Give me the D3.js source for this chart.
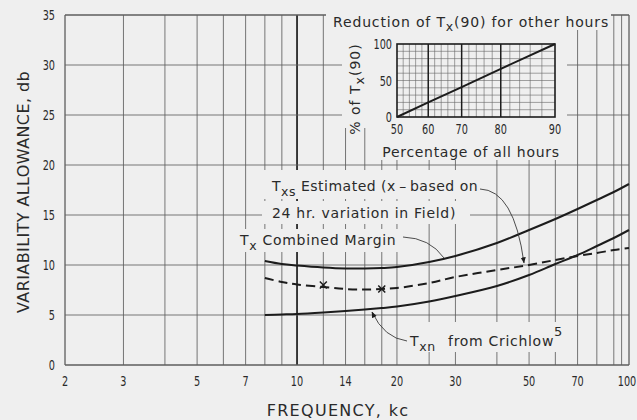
<!DOCTYPE html>
<html>
<head>
<meta charset="utf-8">
<script src="https://cdn.jsdelivr.net/npm/d3@7"></script>
<style>
  html, body { margin: 0; padding: 0; background: #efefef; }
  svg { display: block; }
  .lbl { font-family: "DejaVu Sans", "Noto Sans", sans-serif; fill: #2a2a2a; letter-spacing: 0.7px; }
  .num { font-family: "DejaVu Sans", "Noto Sans", sans-serif; fill: #2a2a2a; }
</style>
</head>
<body>
<svg id="chart" width="637" height="420"></svg>
<script>
// Variability allowance (db) against frequency (kc)
const freqKc         = [8, 9, 10, 12, 14, 16, 18, 20, 25, 30, 40, 50, 60, 70, 80, 90, 100];
const combinedMargin = [10.4, 10.1, 9.95, 9.75, 9.65, 9.65, 9.7, 9.8, 10.3, 10.9, 12.2, 13.5, 14.6, 15.6, 16.5, 17.3, 18.1];
const estimatedTxs   = [8.7, 8.3, 8.05, 7.8, 7.6, 7.55, 7.6, 7.7, 8.2, 8.8, 9.5, 10.0, 10.5, 10.9, 11.2, 11.5, 11.7];
const crichlowTxn    = [5.0, 5.05, 5.1, 5.25, 5.4, 5.55, 5.7, 5.85, 6.35, 6.9, 7.9, 9.0, 10.1, 11.0, 11.9, 12.7, 13.5];
// field measurements marked with x
const fieldKc = [12, 18];
const fieldDb = [8.0, 7.6];

const xTickLabels = [2, 3, 5, 7, 10, 14, 20, 30, 50, 70, 100];
const xGridKc     = [2, 3, 4, 5, 6, 7, 8, 9, 10, 12, 14, 16, 18, 20, 25, 30, 40, 50, 60, 70, 80, 90, 95, 100];
const yTicks      = [0, 5, 10, 15, 20, 25, 30, 35];

// Inset: reduction of Tx(90) for other hours
const insetHours  = [50, 60, 70, 80, 90];
const insetPct    = [0, 20, 41, 66, 100];
const insetXTicks = [50, 60, 70, 80, 90];
const insetXFine  = [52, 54, 56, 58, 62, 64, 66, 68, 72, 74, 76, 78, 82, 84, 86, 88];
const insetYTicks = [0, 50, 100];
const insetYFine  = [10, 20, 30, 40, 50, 60, 70, 80, 90];

const svg = d3.select("#chart");
const BG = "#efefef", INK = "#1c1c1c", GRID = "#5e5e5e";

const x = d3.scaleLog().domain([2, 100]).range([65, 629]);
const y = d3.scaleLinear().domain([0, 35]).range([365, 15]);

// narrow lettering for the scale numbers
function numText(g, data, px, py, anchor) {
  return g.selectAll(null).data(data).join("text")
    .attr("class", "num").attr("font-size", 13.5)
    .attr("text-anchor", anchor)
    .attr("transform", d => `translate(${px(d)},${py(d)}) scale(0.72,1)`)
    .text(d => d);
}

// ---- main grid ----
const grid = svg.append("g");
grid.selectAll("line.v").data(xGridKc).join("line")
  .attr("x1", d => x(d)).attr("x2", d => x(d))
  .attr("y1", y(35)).attr("y2", y(0))
  .attr("stroke", d => (d === 10 ? INK : GRID))
  .attr("stroke-width", d => (d === 10 ? 1.7 : (d === 2 || d === 100 ? 1.3 : 0.85)));
grid.selectAll("line.h").data(yTicks).join("line")
  .attr("x1", x(2)).attr("x2", x(100))
  .attr("y1", d => y(d)).attr("y2", d => y(d))
  .attr("stroke", GRID)
  .attr("stroke-width", d => (d === 0 || d === 35 ? 1.3 : 0.85));

// paper cleared under the lettering blocks
const blanks = [
  [326, 7, 611, 30],    // inset title
  [342, 30, 372, 128],  // inset axis title
  [372, 30, 567, 160],  // inset plot
  [262, 170, 480, 199], // Txs Estimated
  [262, 201, 470, 224], // 24 hr. variation
  [236, 229, 401, 252], // Tx Combined Margin
  [404, 322, 574, 352]  // Txn from Crichlow
];
svg.append("g").selectAll("rect").data(blanks).join("rect")
  .attr("x", d => d[0]).attr("y", d => d[1])
  .attr("width", d => d[2] - d[0]).attr("height", d => d[3] - d[1])
  .attr("fill", BG);

// ---- axis labels ----
numText(svg.append("g"), yTicks, () => 55, d => y(d) + 5, "end");
numText(svg.append("g"), xTickLabels, d => Math.min(x(d), 627), () => 386, "middle");

svg.append("text").attr("class", "lbl").attr("font-size", 16).style("letter-spacing", "0.4px")
  .attr("transform", "translate(29,192) rotate(-90)")
  .attr("text-anchor", "middle").text("VARIABILITY ALLOWANCE, db");
svg.append("text").attr("class", "lbl").attr("font-size", 16).style("letter-spacing", "1.3px")
  .attr("x", 338).attr("y", 416).attr("text-anchor", "middle")
  .text("FREQUENCY, kc");

// ---- curves ----
const line = d3.line().x(d => x(d[0])).y(d => y(d[1])).curve(d3.curveCatmullRom);
const curves = [
  { vals: combinedMargin, dash: null },
  { vals: estimatedTxs, dash: "9,5" },
  { vals: crichlowTxn, dash: null }
];
svg.append("g").selectAll("path").data(curves).join("path")
  .attr("d", c => line(freqKc.map((f, i) => [f, c.vals[i]])))
  .attr("fill", "none").attr("stroke", INK).attr("stroke-width", 2)
  .attr("stroke-dasharray", c => c.dash);

// field points
const xm = svg.append("g");
fieldKc.forEach((f, i) => {
  const cx = x(f), cy = y(fieldDb[i]), r = 3.5;
  xm.append("path")
    .attr("d", `M${cx - r},${cy - r}L${cx + r},${cy + r}M${cx - r},${cy + r}L${cx + r},${cy - r}`)
    .attr("stroke", INK).attr("stroke-width", 1.5);
});

// ---- lettering ----
function labelTx(g, px, py, sub, rest, size) {
  const t = g.append("text").attr("class", "lbl").attr("font-size", size)
    .attr("x", px).attr("y", py);
  t.append("tspan").text("T");
  t.append("tspan").attr("dy", 5).attr("font-size", size - 1.5).text(sub);
  t.append("tspan").attr("dy", -5).text(rest);
  return t;
}
const lab = svg.append("g");
labelTx(lab, 272, 191, "xs", " Estimated (x\u2009\u2013\u2009based on", 14).style("letter-spacing", "0.5px");
lab.append("text").attr("class", "lbl").attr("font-size", 14)
  .attr("x", 272).attr("y", 218).text("24 hr. variation in Field)");
labelTx(lab, 240, 245, "x", " Combined  Margin", 14);
const tn = svg.append("text").attr("class", "lbl").attr("font-size", 14).attr("x", 410).attr("y", 346);
tn.append("tspan").text("T");
tn.append("tspan").attr("dy", 5).attr("font-size", 12.5).text("xn");
tn.append("tspan").attr("dy", -5).attr("dx", 12).text("from Crichlow");
tn.append("tspan").attr("dy", -10).attr("font-size", 13).text("5");

// leader lines
svg.append("defs").append("marker")
  .attr("id", "arr").attr("viewBox", "0 0 10 10").attr("refX", 9).attr("refY", 5)
  .attr("markerWidth", 7).attr("markerHeight", 7).attr("orient", "auto")
  .append("path").attr("d", "M0,1L10,5L0,9Z").attr("fill", INK);
const lead = svg.append("g").attr("fill", "none").attr("stroke", "#3a3a3a").attr("stroke-width", 0.9);
lead.append("path").attr("d", "M480,189 Q514,190 524,263").attr("marker-end", "url(#arr)");
lead.append("path").attr("d", "M403,237 Q430,238 444,258");
lead.append("path").attr("d", "M407,341 Q384,338 372,312").attr("marker-end", "url(#arr)");

// ---- inset ----
function probit(p) {
  // inverse standard normal CDF (Acklam)
  const a = [-39.69683028665376, 220.9460984245205, -275.9285104469687, 138.357751867269, -30.66479806614716, 2.506628277459239];
  const b = [-54.47609879822406, 161.5858368580409, -155.6989798598866, 66.80131188771972, -13.28068155288572];
  const c = [-0.007784894002430293, -0.3223964580411365, -2.400758277161838, -2.549732539343734, 4.374664141464968, 2.938163982698783];
  const d = [0.007784695709041462, 0.3224671290700398, 2.445134137142996, 3.754408661907416];
  const pl = 0.02425;
  if (p < pl) {
    const q = Math.sqrt(-2 * Math.log(p));
    return (((((c[0]*q+c[1])*q+c[2])*q+c[3])*q+c[4])*q+c[5]) / ((((d[0]*q+d[1])*q+d[2])*q+d[3])*q+1);
  }
  if (p <= 1 - pl) {
    const q = p - 0.5, r = q * q;
    return (((((a[0]*r+a[1])*r+a[2])*r+a[3])*r+a[4])*r+a[5])*q / (((((b[0]*r+b[1])*r+b[2])*r+b[3])*r+b[4])*r+1);
  }
  const q = Math.sqrt(-2 * Math.log(1 - p));
  return -(((((c[0]*q+c[1])*q+c[2])*q+c[3])*q+c[4])*q+c[5]) / ((((d[0]*q+d[1])*q+d[2])*q+d[3])*q+1);
}
const ixz = d3.scaleLinear().domain([probit(0.5), probit(0.9)]).range([397, 555]);
const ix = h => ixz(probit(h / 100));
const iy = d3.scaleLinear().domain([0, 100]).range([117, 44]);

const ins = svg.append("g");
ins.selectAll("line.fv").data(insetXFine).join("line")
  .attr("x1", d => ix(d)).attr("x2", d => ix(d)).attr("y1", iy(0)).attr("y2", iy(100))
  .attr("stroke", "#666").attr("stroke-width", 0.6);
ins.selectAll("line.fh").data(insetYFine).join("line")
  .attr("x1", ix(50)).attr("x2", ix(90)).attr("y1", d => iy(d)).attr("y2", d => iy(d))
  .attr("stroke", "#666").attr("stroke-width", 0.6);
ins.selectAll("line.mv").data([60, 70, 80]).join("line")
  .attr("x1", d => ix(d)).attr("x2", d => ix(d)).attr("y1", iy(0)).attr("y2", iy(100))
  .attr("stroke", INK).attr("stroke-width", 1.5);
ins.append("rect").attr("x", ix(50)).attr("y", iy(100))
  .attr("width", ix(90) - ix(50)).attr("height", iy(0) - iy(100))
  .attr("fill", "none").attr("stroke", INK).attr("stroke-width", 1.6);
ins.append("path")
  .attr("d", d3.line().x(d => ix(d[0])).y(d => iy(d[1]))(insetHours.map((h, i) => [h, insetPct[i]])))
  .attr("fill", "none").attr("stroke", INK).attr("stroke-width", 2);

numText(ins.append("g"), insetXTicks, d => ix(d), () => 134, "middle");
numText(ins.append("g"), insetYTicks, () => 392, d => iy(d) + 5, "end");

const ttl = ins.append("text").attr("class", "lbl").attr("font-size", 14)
  .style("letter-spacing", "0.85px").attr("x", 333).attr("y", 27);
ttl.append("tspan").text("Reduction of  T");
ttl.append("tspan").attr("dy", 4).attr("font-size", 12.5).text("x");
ttl.append("tspan").attr("dy", -4).text("(90) for other hours");

ins.append("text").attr("class", "lbl").attr("font-size", 14)
  .attr("x", 471).attr("y", 157).attr("text-anchor", "middle").text("Percentage of all hours");

const yl = ins.append("text").attr("class", "lbl").attr("font-size", 14).style("letter-spacing", "1px")
  .attr("transform", "translate(360,89) rotate(-90)").attr("text-anchor", "middle");
yl.append("tspan").text("% of  T");
yl.append("tspan").attr("dy", 4).attr("font-size", 12.5).text("x");
yl.append("tspan").attr("dy", -4).text("(90)");
</script>
</body>
</html>
